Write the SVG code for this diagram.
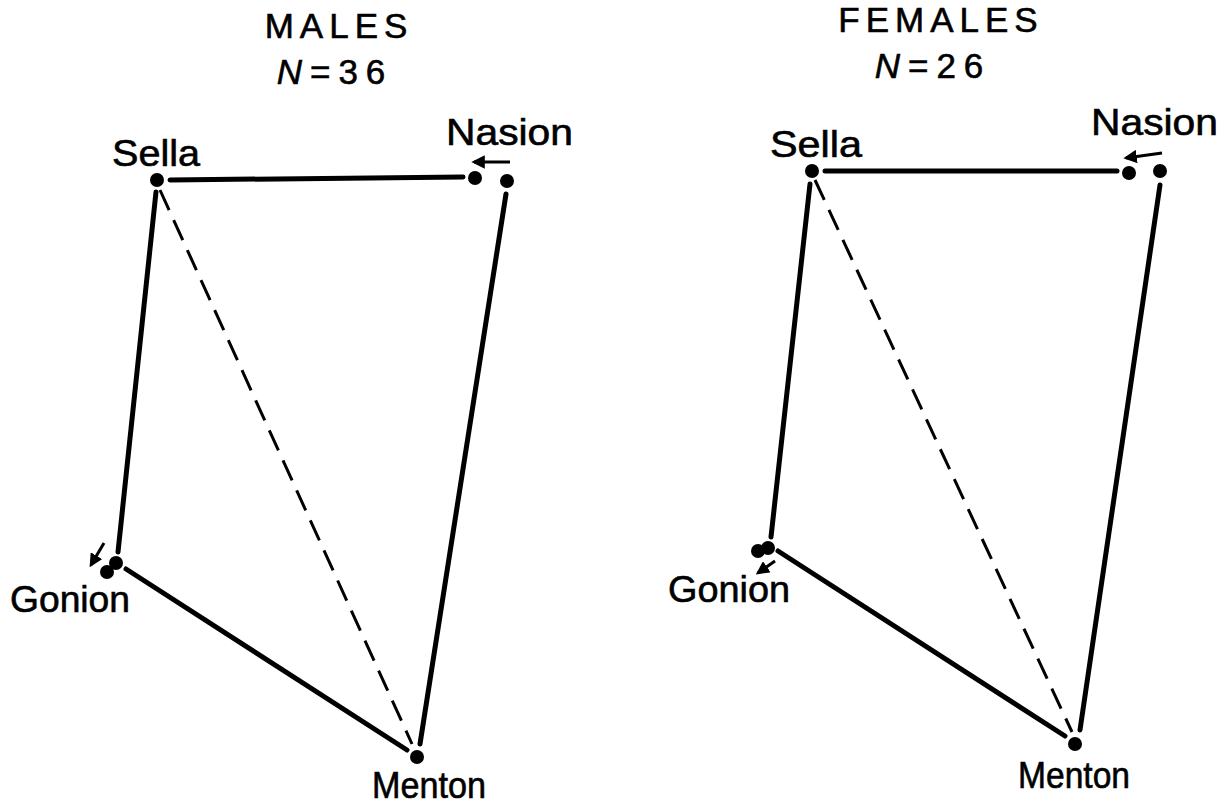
<svg xmlns="http://www.w3.org/2000/svg" width="1232" height="808" viewBox="0 0 1232 808">
<style>
text{font-family:"Liberation Sans",Arial,sans-serif;fill:#000;stroke:#000;stroke-width:0.6}
.lbl{font-size:36px}
.ttl{font-size:35px;text-anchor:middle}
.ln{stroke:#000;stroke-width:5;stroke-linecap:round;fill:none}
.ds{stroke:#000;stroke-width:3;stroke-dasharray:22 11;fill:none}
.ar{stroke:#000;stroke-width:3;fill:none;marker-end:url(#ah)}
.dot{fill:#000}
</style>
<defs>
<marker id="ah" viewBox="0 0 10 10" refX="8" refY="5" markerWidth="4.5" markerHeight="4.5" orient="auto" markerUnits="strokeWidth">
<path d="M0,0 L10,5 L0,10 Z" fill="#000"/>
</marker>
</defs>
<g id="titles">
<text class="ttl" x="339" y="38" letter-spacing="6">MALES</text>
<text class="ttl" x="335" y="84" letter-spacing="8"><tspan font-style="italic">N</tspan>=36</text>
<text class="ttl" x="941" y="32" letter-spacing="6">FEMALES</text>
<text class="ttl" x="933" y="78" letter-spacing="8"><tspan font-style="italic">N</tspan>=26</text>
</g>
<g id="connectors">
<line class="ln" x1="170" y1="180" x2="463" y2="177"/>
<line class="ln" x1="156" y1="192" x2="118" y2="552"/>
<line class="ln" x1="506" y1="194" x2="420" y2="744"/>
<line class="ln" x1="126" y1="569" x2="407" y2="750"/>
<line class="ds" x1="160" y1="190" x2="412" y2="744"/>
<line class="ar" x1="510" y1="162" x2="474" y2="162"/>
<line class="ar" x1="104" y1="543" x2="91" y2="565"/>
<line class="ln" x1="825" y1="171" x2="1117" y2="171"/>
<line class="ln" x1="810" y1="184" x2="771" y2="537"/>
<line class="ln" x1="1160" y1="185" x2="1080" y2="730"/>
<line class="ln" x1="778" y1="551" x2="1065" y2="736"/>
<line class="ds" x1="815" y1="180" x2="1072" y2="732"/>
<line class="ar" x1="1162" y1="153" x2="1126" y2="158"/>
<line class="ar" x1="775" y1="561" x2="758" y2="573"/>
</g>
<g id="m-sella"><circle class="dot" cx="157" cy="180" r="7"/><text class="lbl" x="112" y="166" textLength="88" lengthAdjust="spacingAndGlyphs">Sella</text></g>
<g id="m-nasion"><circle class="dot" cx="475" cy="178" r="7"/><circle class="dot" cx="507" cy="181" r="7"/><text class="lbl" x="446" y="145" textLength="127" lengthAdjust="spacingAndGlyphs">Nasion</text></g>
<g id="m-gonion"><circle class="dot" cx="116" cy="563" r="7"/><circle class="dot" cx="107" cy="572" r="7"/><text class="lbl" x="10" y="612" textLength="120" lengthAdjust="spacingAndGlyphs">Gonion</text></g>
<g id="m-menton"><circle class="dot" cx="417" cy="757" r="7"/><text class="lbl" x="372" y="798" textLength="114" lengthAdjust="spacingAndGlyphs">Menton</text></g>
<g id="f-sella"><circle class="dot" cx="812" cy="171" r="7"/><text class="lbl" x="770" y="157" textLength="92" lengthAdjust="spacingAndGlyphs">Sella</text></g>
<g id="f-nasion"><circle class="dot" cx="1129" cy="173" r="7"/><circle class="dot" cx="1160" cy="171" r="7"/><text class="lbl" x="1091" y="135" textLength="127" lengthAdjust="spacingAndGlyphs">Nasion</text></g>
<g id="f-gonion"><circle class="dot" cx="758" cy="551" r="7"/><circle class="dot" cx="768" cy="548" r="7"/><text class="lbl" x="668" y="602" textLength="122" lengthAdjust="spacingAndGlyphs">Gonion</text></g>
<g id="f-menton"><circle class="dot" cx="1075" cy="744" r="7"/><text class="lbl" x="1018" y="788" textLength="112" lengthAdjust="spacingAndGlyphs">Menton</text></g>
</svg>
